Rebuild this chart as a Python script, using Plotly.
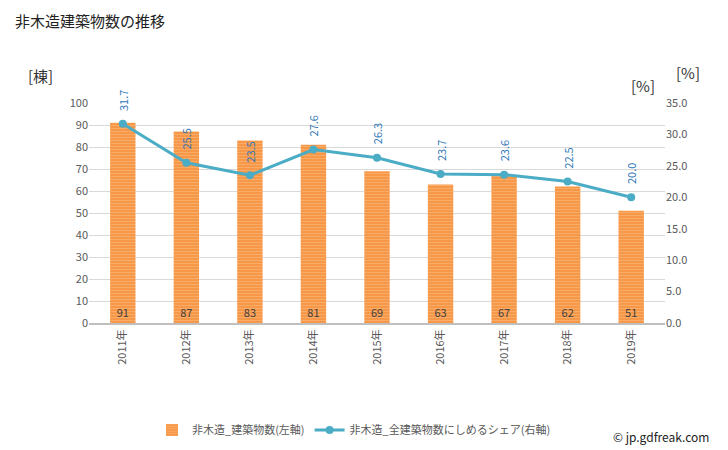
import plotly.graph_objects as go

years = ["2011年", "2012年", "2013年", "2014年", "2015年", "2016年", "2017年", "2018年", "2019年"]
buildings = [91, 87, 83, 81, 69, 63, 67, 62, 51]
share = [31.7, 25.5, 23.5, 27.6, 26.3, 23.7, 23.6, 22.5, 20.0]
left_ticks = [0, 10, 20, 30, 40, 50, 60, 70, 80, 90, 100]
right_ticks = [0, 5, 10, 15, 20, 25, 30, 35]

FONT = "Noto Sans CJK JP"

# page body has an 8px default margin; work in figure coordinates
OFF = 8
W, H = 728 - OFF, 450 - OFF
ML, MR, MT = 89 - OFF, W - (665 - OFF), 103 - OFF
MB = H - (323 - OFF)
pw, ph = W - ML - MR, H - MT - MB

fig = go.Figure()
fig.add_trace(go.Bar(
    x=years, y=buildings, name="非木造_建築物数(左軸)",
    marker=dict(color="#f9a55a", line=dict(width=0),
                pattern=dict(shape="-", fgcolor="#fbc08a", bgcolor="#f79646", size=3, solidity=0.4)),
    width=0.4,
    text=[str(v) for v in buildings], textposition="inside", insidetextanchor="start",
    textangle=0, textfont=dict(color="#404040", size=11, family=FONT),
    yaxis="y",
))
fig.add_trace(go.Scatter(
    x=years, y=share, name="非木造_全建築物数にしめるシェア(右軸)",
    mode="lines+markers", line=dict(color="#4bacc6", width=3),
    marker=dict(size=8, color="#4bacc6"),
    yaxis="y2",
))

annotations = []
for yr, v in zip(years, share):
    annotations.append(dict(
        x=yr, y=v, xref="x", yref="y2", text=f"{v:.1f}", showarrow=False,
        textangle=-90, yanchor="bottom", yshift=11,
        font=dict(color="#2e75b6", size=11, family=FONT),
    ))
extra = [
    dict(text="[棟]", x=40, y=75, font=dict(size=15, color="#333333", family=FONT)),
    dict(text="[%]", x=643, y=85, font=dict(size=15, color="#333333", family=FONT)),
    dict(text="[%]", x=688, y=73, font=dict(size=15, color="#333333", family=FONT)),
    dict(text="© jp.gdfreak.com", x=661, y=436, font=dict(size=12, color="#222222", family=FONT)),
]
for a in extra:
    px, py = a["x"] - OFF, a["y"] - OFF
    a.update(xref="paper", yref="paper", showarrow=False, xanchor="center", yanchor="middle",
             x=(px - ML) / pw, y=(H - MB - py) / ph)
annotations += extra

fig.update_layout(
    width=W, height=H,
    margin=dict(l=ML, r=MR, t=MT, b=MB, autoexpand=False),
    paper_bgcolor="white", plot_bgcolor="white",
    title=dict(text="非木造建築物数の推移", x=(15 - OFF) / W, xanchor="left",
               y=1 - (22 - OFF) / H, yanchor="middle",
               font=dict(size=15, color="#222222", family=FONT)),
    font=dict(family=FONT, color="#595959", size=11),
    xaxis=dict(type="category", tickangle=-90, showgrid=False, showline=True, automargin=False,
               linecolor="#bfbfbf", linewidth=2, ticks="", tickfont=dict(size=11, color="#595959")),
    yaxis=dict(range=[0, 100], tickvals=left_ticks, showgrid=True, gridcolor="#d9d9d9", automargin=False,
               zeroline=False, showline=False, ticks="", tickfont=dict(size=11, color="#595959")),
    yaxis2=dict(range=[0, 35], tickvals=right_ticks, ticktext=[f"{t:.1f}" for t in right_ticks],
                overlaying="y", side="right", showgrid=False, zeroline=False, showline=False, automargin=False,
                ticks="", tickfont=dict(size=11, color="#595959")),
    legend=dict(orientation="h", x=(152 - OFF - ML) / pw, xanchor="left",
                y=(H - MB - (430 - OFF)) / ph, yanchor="middle",
                font=dict(size=11, color="#595959", family=FONT)),
    annotations=annotations,
    bargap=0.6,
)

fig.write_html("out.html")
